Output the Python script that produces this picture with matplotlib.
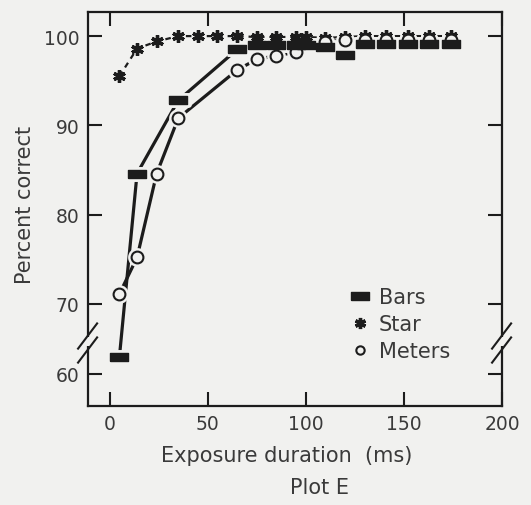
"""Plot E: percent correct vs exposure duration for three display formats."""

import matplotlib
matplotlib.use("Agg")
import matplotlib.pyplot as plt
import numpy as np
from matplotlib.lines import Line2D

# values
star_ms = [5, 14, 24, 35, 45, 55, 65, 75, 85, 95, 100, 110, 120, 130, 141, 152, 163, 174]
star_pct = [95.5, 98.6, 99.4, 100, 100, 100, 100, 99.9, 99.9, 99.9, 99.9, 99.8, 99.9,
            100, 100, 100, 100, 100]

bars_ms = [5, 14, 35, 65, 75, 85, 95, 100, 110, 120, 130, 141, 152, 163, 174]
bars_pct = [62.4, 84.6, 92.8, 98.5, 99.0, 99.0, 99.0, 99.0, 98.8, 97.9, 99.1, 99.1,
            99.1, 99.1, 99.1]

meters_ms = [5, 14, 24, 35, 65, 75, 85, 95, 110, 120, 130, 141, 152, 163, 174]
meters_pct = [71.1, 75.2, 84.6, 90.8, 96.2, 97.4, 97.8, 98.2, 99.3, 99.6, 99.6, 99.6,
              99.6, 99.6, 99.6]

x_ticks = [0, 50, 100, 150, 200]
y_ticks = [60, 70, 80, 90, 100]

BG = "#f1f1ef"
INK = "#1c1c1c"
TXT = "#3a3a3a"
SQUEEZE = 0.784  # the 60-70 band is drawn shorter than the others


def fwd(y):
    y = np.asarray(y, dtype=float)
    return np.where(y >= 70, y, 70 - (70 - y) * SQUEEZE)


def inv(z):
    z = np.asarray(z, dtype=float)
    return np.where(z >= 70, z, 70 - (70 - z) / SQUEEZE)


bar_marker = [(-1, -0.39), (1, -0.39), (1, 0.39), (-1, 0.39), (-1, -0.39)]

plt.rcParams["font.family"] = ["DejaVu Sans"]

fig = plt.figure(figsize=(5.31, 5.06), dpi=100, facecolor=BG)
ax = fig.add_axes([88 / 531, 1 - 407 / 506, 414 / 531, 394 / 506], facecolor=BG)
ax.set_yscale("function", functions=(fwd, inv))

# lines first
ax.plot(star_ms, star_pct, color=INK, lw=1.6, ls=(0, (2.5, 2.2)), zorder=2)
ax.plot(bars_ms, bars_pct, color=INK, lw=2.3, zorder=2)
ax.plot(meters_ms, meters_pct, color=INK, lw=2.3, zorder=2)

# background halos so the lines stop short of the markers
ax.plot(bars_ms, bars_pct, ls="none", marker=bar_marker, ms=14, mfc=BG, mec=BG, mew=5, zorder=3)
ax.plot(meters_ms, meters_pct, ls="none", marker="o", ms=8.5, mfc=BG, mec=BG, mew=5, zorder=3)

ax.plot(star_ms, star_pct, ls="none", marker=(6, 2, 0), ms=9, mec=INK, mew=2.4, zorder=4)
ax.plot(meters_ms, meters_pct, ls="none", marker="o", ms=8.5, mfc=BG, mec=INK, mew=1.5, zorder=5)
ax.plot(bars_ms, bars_pct, ls="none", marker=bar_marker, ms=13, mfc=INK, mec=INK, mew=1, zorder=6)

ax.set_xlim(-11, 200)
ax.set_ylim(55.4, 102.7)
ax.set_xticks(x_ticks)
ax.set_yticks(y_ticks)
ax.tick_params(direction="in", length=10, width=1.5, color=INK, labelsize=13.5,
               labelcolor=TXT, top=True, right=True, pad=6)
for s in ax.spines.values():
    s.set_linewidth(1.6)
    s.set_color(INK)

ax.set_xlabel("Exposure duration  (ms)", fontsize=15, color=TXT)
ax.set_ylabel("Percent correct", fontsize=15, color=TXT)
ax.xaxis.set_label_coords((287 - 88) / 414, (407 - 456) / 394)
ax.yaxis.set_label_coords((25 - 88) / 414, (407 - 205) / 394)
ax.xaxis.label.set_va("center")
ax.yaxis.label.set_va("center")
fig.text(320 / 531, 1 - 488 / 506, "Plot E", fontsize=15, color=TXT,
         ha="center", va="center")

# axis break marks on both sides
for xa in (0.0, 1.0):
    trans = ax.get_yaxis_transform()
    ax.add_patch(plt.Rectangle((xa - 0.01, 64.0), 0.02, 1.2, transform=trans,
                               facecolor=BG, edgecolor="none", clip_on=False, zorder=7))
    for yb in (63.5, 65.5):
        ax.plot([xa - 0.024, xa + 0.022], [yb - 1.9, yb + 1.7], transform=trans,
                color=INK, lw=1.5, clip_on=False, zorder=8)

handles = [
    Line2D([], [], ls="none", marker=bar_marker, ms=13, mfc=INK, mec=INK),
    Line2D([], [], ls="none", marker=(6, 2, 0), ms=8, mec=INK, mew=2.4),
    Line2D([], [], ls="none", marker="o", ms=6, mfc=BG, mec=INK, mew=1.5),
]
ax.legend(handles, ["Bars", "Star", "Meters"], loc="upper left",
          bbox_to_anchor=(0.615, 0.322), frameon=False, fontsize=15,
          handlelength=0.9, handletextpad=0.45, labelspacing=0.33,
          labelcolor=TXT, borderaxespad=0)

fig.savefig("out.png", dpi=100, facecolor=BG)
